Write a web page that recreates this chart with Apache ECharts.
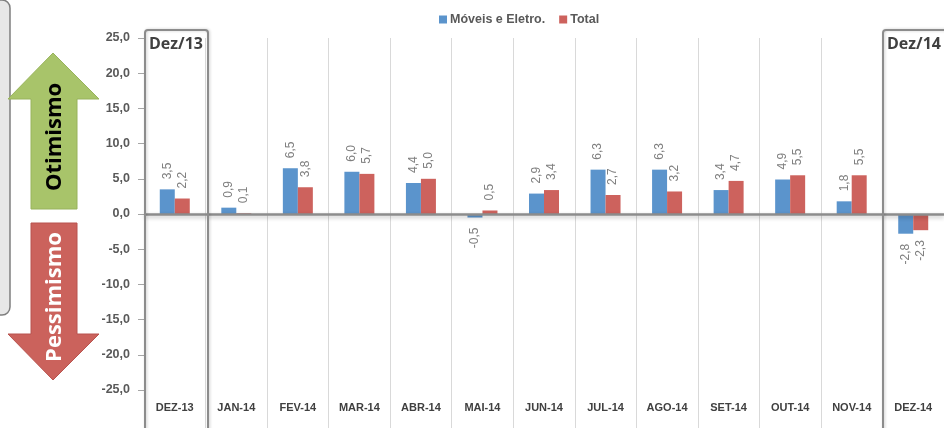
<!DOCTYPE html>
<html>
<head>
<meta charset="utf-8">
<script src="https://cdn.jsdelivr.net/npm/echarts@6/dist/echarts.min.js"></script>
<style>
  html, body { margin: 0; padding: 0; background: #fff; }
  #chart { width: 944px; height: 428px; }
</style>
</head>
<body>
<div id="chart"></div>
<script>
// categorias (meses)
const months = ['DEZ-13', 'JAN-14', 'FEV-14', 'MAR-14', 'ABR-14', 'MAI-14', 'JUN-14',
  'JUL-14', 'AGO-14', 'SET-14', 'OUT-14', 'NOV-14', 'DEZ-14'];
// séries
const moveisEletro = [3.5, 0.9, 6.5, 6.0, 4.4, -0.5, 2.9, 6.3, 6.3, 3.4, 4.9, 1.8, -2.8];
const total = [2.2, 0.1, 3.8, 5.7, 5.0, 0.5, 3.4, 2.7, 3.2, 4.7, 5.5, 5.5, -2.3];
const seriesNames = ['Móveis e Eletro.', 'Total'];
const seriesColors = ['#5b94cc', '#cd625d'];
// eixo y
const yMin = -25, yMax = 25, yStep = 5;

const fmt = v => v.toFixed(1).replace('.', ',');

// rótulos girados: acima da barra se positivo, abaixo se negativo
function buildData(values) {
  return values.map(v => {
    if (v < 0) {
      return { value: v, label: { position: 'bottom', align: 'right' } };
    }
    return v;
  });
}

function barSeries(name, values, color, withZeroLine) {
  const s = {
    name: name,
    type: 'bar',
    barWidth: 15,
    barGap: '0%',
    itemStyle: { color: color },
    label: {
      show: true,
      position: 'top',
      rotate: 90,
      align: 'left',
      verticalAlign: 'middle',
      distance: 10,
      color: '#7f7f7f',
      fontSize: 12,
      fontFamily: 'Liberation Sans',
      formatter: p => fmt(p.value)
    },
    data: buildData(values)
  };
  if (withZeroLine) {
    s.markLine = {
      silent: true,
      symbol: 'none',
      label: { show: false },
      lineStyle: {
        color: '#8c8c8c', width: 2.5, type: 'solid',
        shadowColor: 'rgba(0,0,0,0.25)', shadowBlur: 4, shadowOffsetY: 2
      },
      data: [{ yAxis: 0 }]
    };
  }
  return s;
}

let chart = echarts.init(document.getElementById('chart'));
chart.setOption({
  animation: false,
  textStyle: { fontFamily: 'Liberation Sans' },
  legend: {
    top: 8,
    left: 434,
    itemWidth: 8,
    itemHeight: 8,
    itemGap: 14,
    icon: 'rect',
    textStyle: { color: '#595959', fontSize: 12.5, fontWeight: 'bold', padding: [0, 0, 0, -2] },
    data: seriesNames
  },
  grid: { left: 144, right: 0, top: 38, bottom: 38, containLabel: false },
  xAxis: {
    type: 'category',
    data: months,
    boundaryGap: true,
    axisLine: { show: false, onZero: false },
    axisTick: { show: true, length: 38, lineStyle: { color: '#d9d9d9' } },
    splitLine: { show: true, lineStyle: { color: '#d9d9d9', width: 1 } },
    axisLabel: { color: '#404040', fontSize: 11, fontWeight: 'bold', margin: 12, interval: 0 }
  },
  yAxis: {
    type: 'value',
    min: yMin,
    max: yMax,
    interval: yStep,
    axisLine: { show: true, lineStyle: { color: '#a6a6a6' } },
    axisTick: { show: true, length: 6, lineStyle: { color: '#a6a6a6' } },
    splitLine: { show: false },
    axisLabel: { color: '#595959', fontSize: 12.5, fontWeight: 'bold', margin: 14, formatter: v => fmt(v) }
  },
  series: [
    barSeries(seriesNames[0], moveisEletro, seriesColors[0], true),
    barSeries(seriesNames[1], total, seriesColors[1], false)
  ],
  graphic: [
    // painel cinza à esquerda
    {
      type: 'rect', z: 0,
      shape: { x: -20, y: 0, width: 30, height: 315, r: 8 },
      style: { fill: '#e7e7e7', stroke: '#7f7f7f', lineWidth: 1.5 }
    },
    // seta verde (otimismo)
    {
      type: 'polygon', z: 1,
      shape: { points: [[53, 53], [99, 99], [77, 99], [77, 209], [31, 209], [31, 99], [8, 99]] },
      style: { fill: '#a8c46a', stroke: '#98b35c', lineWidth: 1 }
    },
    {
      type: 'text', z: 2,
      x: 55, y: 137, rotation: Math.PI / 2,
      style: { text: 'Otimismo', fill: '#000', font: 'bold 22px "Open Sans"', align: 'center', verticalAlign: 'middle' }
    },
    // seta vermelha (pessimismo)
    {
      type: 'polygon', z: 1,
      shape: { points: [[31, 223], [77, 223], [77, 334], [99, 334], [53, 380], [8, 334], [31, 334]] },
      style: { fill: '#cb625c', stroke: '#b8534e', lineWidth: 1 }
    },
    {
      type: 'text', z: 2,
      x: 55, y: 297, rotation: Math.PI / 2,
      style: { text: 'Pessimismo', fill: '#fff', font: 'bold 22px "Open Sans"', align: 'center', verticalAlign: 'middle' }
    },
    // caixas Dez/13 e Dez/14
    {
      type: 'rect', z: 10,
      shape: { x: 145, y: 30, width: 63, height: 410, r: 3 },
      style: { fill: 'none', stroke: '#8c8c8c', lineWidth: 2, shadowColor: 'rgba(0,0,0,0.2)', shadowBlur: 3, shadowOffsetX: 1 }
    },
    {
      type: 'text', z: 11,
      x: 149, y: 44,
      style: { text: 'Dez/13', fill: '#404040', font: 'bold 16px "Open Sans"', verticalAlign: 'middle' }
    },
    {
      type: 'rect', z: 10,
      shape: { x: 883, y: 30, width: 80, height: 410, r: 3 },
      style: { fill: 'none', stroke: '#8c8c8c', lineWidth: 2, shadowColor: 'rgba(0,0,0,0.2)', shadowBlur: 3, shadowOffsetX: 1 }
    },
    {
      type: 'text', z: 11,
      x: 887, y: 44,
      style: { text: 'Dez/14', fill: '#404040', font: 'bold 16px "Open Sans"', verticalAlign: 'middle' }
    }
  ]
});
</script>
</body>
</html>
